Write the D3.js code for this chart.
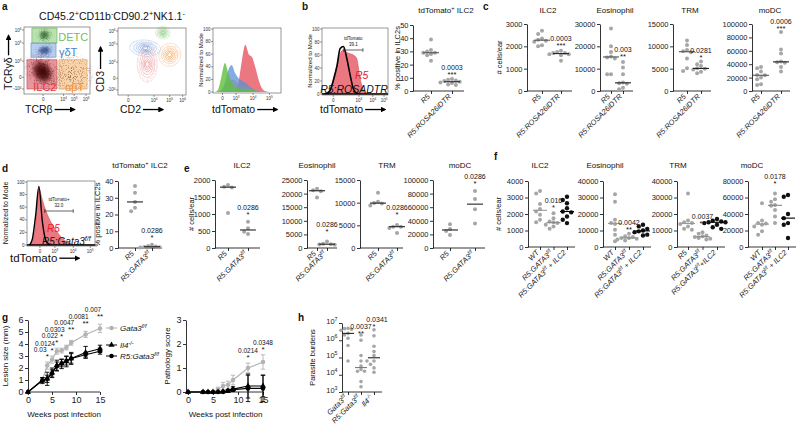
<!DOCTYPE html>
<html>
<head>
<meta charset="utf-8">
<script src="https://cdn.jsdelivr.net/npm/d3@7"></script>
<style>
  body { margin: 0; background: #fff; }
  svg { display: block; }
  text { font-family: "Liberation Sans", Arial, sans-serif; }
</style>
</head>
<body>
<script>
// ---------------- data ----------------
// a: flow gates (normalised channel units: u = x, v = y)
const gateNames = ['DETC', 'γδT', 'ILC2', 'αβT'];
const gateBoxes = [[0.12, 0.76, 0.5, 0.985], [0.106, 0.55, 0.485, 0.76], [0.045, 0.075, 0.5, 0.51], [0.53, 0.075, 0.955, 0.51]];
const gateLabelAt = [[0.52, 0.79], [0.53, 0.57], [0.14, 0.045], [0.62, 0.045]];
// population clouds: [u, v, rx, ry, rotation]
const popsTCR = [[0.28, 0.33, 0.16, 0.2, -35], [0.72, 0.3, 0.22, 0.2, 0], [0.31, 0.65, 0.11, 0.07, -10], [0.31, 0.88, 0.09, 0.08, 0]];
const popsCD2 = [[0.66, 0.93, 0.08, 0.07, 0], [0.4, 0.7, 0.17, 0.09, 5], [0.76, 0.6, 0.12, 0.13, 20], [0.43, 0.46, 0.11, 0.2, 0]];

// tdTomato histograms, 20 bins each (% of mode)
const histA_ILC2 = [0, 0, 0, 0, 0, 0, 2, 15, 50, 75, 60, 55, 38, 18, 5, 1, 0, 0, 0, 0];
const histA_abT = [0, 0, 2, 8, 15, 20, 18, 12, 10, 9, 8, 6, 4, 2, 1, 0, 0, 0, 0, 0];
const histA_gdT = [0, 0, 3, 15, 35, 43, 30, 22, 18, 15, 10, 6, 3, 1, 0, 0, 0, 0, 0, 0];
const histA_DETC = [0, 4, 25, 46, 30, 15, 8, 6, 5, 5, 4, 3, 2, 1, 0, 0, 0, 0, 0, 0];
const histB_R5 = [0, 2, 8, 25, 45, 62, 68, 64, 62, 60, 55, 25, 6, 1, 0, 0, 0, 0, 0, 0];
const histB_DTR = [0, 1, 6, 22, 42, 70, 73, 55, 30, 8, 1, 0, 0, 0, 0, 0, 0, 0, 0, 0];
const histD_R5 = [0, 4, 30, 90, 72, 55, 42, 32, 24, 16, 10, 6, 3, 1, 0, 0, 0, 0, 0, 0];
const histD_Gata = [0, 8, 45, 93, 38, 8, 1, 0, 0, 0, 0, 0, 0, 0, 0, 0, 0, 0, 0, 0];

// b / d: % tdTomato+ in ILC2s
const bGroups = ['R5', 'R5:ROSA26iDTR'];
const bPct = [[39, 31, 30, 29, 29, 28, 27, 23], [9, 8.5, 8, 7.5, 7, 6.5, 6, 5, 4.5]];
const dGroups = ['R5', 'R5:GATA3^{f/f}'];
const dPct = [[37, 33, 27.5, 24, 22], [2, 1.2, 0.9, 0.6, 0.4, 0.3]];

// c: cells/ear, R5 vs R5:ROSA26iDTR
const cILC2 = [[2700, 2550, 2350, 2300, 2250, 2200, 2050, 2000], [1800, 1750, 1700, 1700, 1650, 1650, 1600, 1350]];
const cEos = [[28000, 20000, 17500, 15500, 15000, 14500, 7500, 7500], [13000, 10500, 7500, 3800, 3500, 3200, 1500, 800]];
const cTRM = [[11300, 10300, 9200, 8900, 8700, 7300, 5100, 4500], [6600, 6000, 5600, 5100, 5000, 4800, 4300, 4000]];
const cMoDC = [[36000, 34000, 29000, 24000, 23500, 20000, 17500, 10000, 9000], [88000, 62000, 56000, 44000, 43000, 42000, 36000, 29000]];

// e: cells/ear, R5 vs R5:GATA3f/f
const eGroups = ['R5', 'R5:GATA3^{f/f}'];
const eILC2 = [[1850, 1800, 1780, 1030], [770, 580, 480, 410]];
const eEos = [[21800, 21200, 20900, 18600], [2400, 1600, 1400, 1300, 1200]];
const eTRM = [[12200, 10200, 9900, 9800, 9400], [5100, 4700, 4700, 4400, 3300]];
const eMoDC = [[35000, 28000, 25000, 19000], [84000, 72000, 57000, 36000]];

// f: cells/ear with ILC2 transfer
const fGroups = ['WT', 'R5:GATA3^{f/f}', 'R5:GATA3^{f/f} + ILC2'];
const fGroupsTRM = ['R5', 'R5:GATA3^{f/f}', 'R5:GATA3^{f/f}+ILC2'];
const fILC2 = [[3400, 3250, 2600, 2300, 2150, 1950, 1650, 1500], [2050, 1750, 1550, 1500, 1450, 1350, 1250, 1100], [3050, 2850, 2650, 2350, 2150, 2100, 1850, 1650, 1450]];
const fEos = [[32000, 27500, 16500, 14500, 14000, 10500, 7500, 3500], [8000, 6500, 6000, 5500, 5500, 5000, 4500, 4000], [13500, 12500, 11000, 10000, 9500, 9000, 7500, 7000]];
const fTRM = [[32500, 16000, 15000, 14500, 14000, 12500, 11000, 10500], [9000, 8000, 7000, 6500, 6000, 5500, 5000, 4500], [17000, 16000, 15500, 15000, 15000, 14500, 13500, 12000, 11000]];
const fMoDC = [[53000, 32000, 29000, 28500, 27000, 25000, 19000, 15000], [65000, 58000, 55000, 51000, 50000, 45000, 37000, 29000], [63000, 61000, 40000, 35000, 29000, 27000, 11000]];

// g: time course
const weeks = [0, 3, 4, 5, 6, 7, 8, 9, 12, 15];
const lesionGata = [0, 1.0, 2.2, 2.7, 3.4, 3.45, 3.7, 4.1, 4.8, 5.3];
const lesionGataErr = [0, 0.15, 0.3, 0.3, 0.25, 0.2, 0.2, 0.2, 0.25, 0.35];
const lesionIl4 = [0, 1.0, 1.1, 1.6, 2.2, 2.35, 2.55, 2.8, 3.3, 3.6];
const lesionIl4Err = [0, 0.2, 0.55, 0.4, 0.45, 0.4, 0.45, 0.5, 0.5, 0.3];
const lesionR5 = [0, 0.95, 1.1, 1.55, 2.15, 2.4, 2.6, 2.8, 3.1, 3.4];
const lesionR5Err = [0, 0.25, 0.3, 0.3, 0.35, 0.3, 0.35, 0.4, 0.2, 0.25];
const lesionP = [[4, '0.03', '*'], [5, '0.0124', '*'], [6, '0.022', '*'], [7, '0.0303', '*'], [9, '0.0047', '**'], [12, '0.0081', '**'], [15, '0.007', '**']];
const pathGata = [0, 0, 0, 0, 0.1, 0.25, 0.3, 0.5, 1.0, 1.25];
const pathGataErr = [0, 0, 0, 0, 0.1, 0.15, 0.15, 0.2, 0.2, 0.3];
const pathIl4 = [0, 0, 0, 0, 0, 0.02, 0.05, 0.12, 0.25, 0.25];
const pathIl4Err = [0, 0, 0, 0, 0, 0.02, 0.05, 0.1, 0.5, 0.45];
const pathR5 = [0, 0, 0, 0, 0, 0, 0.05, 0.1, 0.15, 0.15];
const pathR5Err = [0, 0, 0, 0, 0, 0, 0.05, 0.05, 0.55, 0.55];
const pathP = [[12, '0.0214', '*'], [15, '0.0348', '*']];

// h: parasite burdens
const hGroups = ['Gata3^{f/f}', 'R5:Gata3^{f/f}', 'Il4^{-/-}'];
const hBurden = [
  [5.0e6, 4.7e6, 4.3e6, 3.8e6, 2.5e6, 2.0e6, 1.3e6, 5.0e5, 6.3e4],
  [2.0e6, 1.0e6, 1.3e5, 6.3e4, 3.2e4, 2.0e4, 1.6e4, 1.6e4, 4.0e3, 2.0e3],
  [4.0e6, 1.8e6, 4.5e5, 2.2e5, 1.3e5, 6.3e4, 6.3e4, 4.0e4, 2.5e4, 1.4e4]
];

// ---------------- helpers ----------------
const GRAY = '#a6a6a6', BLACK = '#111';
const TICK = 7.5;
const svg = d3.select('body').append('svg').attr('width', 800).attr('height', 433);
const defs = svg.append('defs');

defs.append('marker').attr('id', 'arr').attr('viewBox', '0 0 10 10').attr('refX', 8).attr('refY', 5)
  .attr('markerWidth', 4.5).attr('markerHeight', 4.5).attr('orient', 'auto')
  .append('path').attr('d', 'M0,0L10,5L0,10Z').attr('fill', '#000');

// speckle mask so the flow clouds look like dots
const speck = defs.append('filter').attr('id', 'speck').attr('x', '-20%').attr('y', '-20%').attr('width', '140%').attr('height', '140%');
speck.append('feTurbulence').attr('type', 'fractalNoise').attr('baseFrequency', 1.1).attr('numOctaves', 1).attr('seed', 4).attr('result', 'n');
speck.append('feColorMatrix').attr('in', 'n').attr('type', 'matrix')
  .attr('values', '0 0 0 0 0  0 0 0 0 0  0 0 0 0 0  7 0 0 0 -3.6').attr('result', 'm');
speck.append('feComposite').attr('in', 'SourceGraphic').attr('in2', 'm').attr('operator', 'in');
defs.append('filter').attr('id', 'soft').append('feGaussianBlur').attr('stdDeviation', 1.2);

function rich(t, str, size) {
  t.text(null);
  const sh = size * 0.38;
  let raised = false;
  str.split(/(\^\{[^}]*\})/).filter(s => s).forEach(s => {
    if (s.startsWith('^{')) {
      t.append('tspan').attr('dy', raised ? 0 : -sh).attr('font-size', size * 0.7).text(s.slice(2, -1));
      raised = true;
    } else {
      t.append('tspan').attr('dy', raised ? sh : 0).text(s);
      raised = false;
    }
  });
  return t;
}

function label(g, x, y, str, size, o = {}) {
  const t = g.append('text').attr('x', x).attr('y', y).attr('font-size', size)
    .attr('text-anchor', o.anchor || 'start').attr('fill', o.fill || '#111');
  if (o.weight) t.attr('font-weight', o.weight);
  if (o.style) t.attr('font-style', o.style);
  if (o.rotate) t.attr('transform', `rotate(${o.rotate},${x},${y})`);
  return rich(t, str, size);
}

function styleAxis(a, fs) {
  a.attr('font-family', null);
  a.select('.domain').attr('stroke', '#000').attr('stroke-width', 0.8);
  a.selectAll('.tick line').attr('stroke', '#000').attr('stroke-width', 0.8);
  a.selectAll('.tick text').attr('font-size', fs).attr('fill', '#222');
}

function arrowLabel(x, y, str, size, len, rot) {
  const g = svg.append('g').attr('transform', `translate(${x},${y})` + (rot ? ` rotate(${rot})` : ''));
  const t = label(g, 0, 0, str, size);
  const w = t.node().getComputedTextLength();
  g.append('line').attr('x1', w + 2).attr('x2', w + 2 + len).attr('y1', -size * 0.33).attr('y2', -size * 0.33)
    .attr('stroke', '#000').attr('stroke-width', 1.3).attr('marker-end', 'url(#arr)');
}

function frame(g, b) {
  g.append('rect').attr('x', b.x0).attr('y', b.y0).attr('width', b.x1 - b.x0).attr('height', b.y1 - b.y0)
    .attr('fill', 'none').attr('stroke', '#555').attr('stroke-width', 0.6);
}

function flowTicks(g, b, xt, yt) {
  const x = d3.scaleLinear([0, 1], [b.x0, b.x1]), y = d3.scaleLinear([0, 1], [b.y1, b.y0]);
  xt.forEach(([u, s]) => {
    g.append('line').attr('x1', x(u)).attr('x2', x(u)).attr('y1', b.y1).attr('y2', b.y1 + 2).attr('stroke', '#333').attr('stroke-width', 0.5);
    label(g, x(u), b.y1 + 6.5, s, 4.5, { anchor: 'middle', fill: '#333' });
  });
  yt.forEach(([v, s]) => {
    g.append('line').attr('x1', b.x0 - 2).attr('x2', b.x0).attr('y1', y(v)).attr('y2', y(v)).attr('stroke', '#333').attr('stroke-width', 0.5);
    label(g, b.x0 - 2.5, y(v) + 1.5, s, 4.5, { anchor: 'end', fill: '#333' });
  });
}

function gradient(id, color, a0) {
  const gr = defs.append('radialGradient').attr('id', id);
  gr.append('stop').attr('offset', '0%').attr('stop-color', color).attr('stop-opacity', a0);
  gr.append('stop').attr('offset', '55%').attr('stop-color', color).attr('stop-opacity', a0 * 0.75);
  gr.append('stop').attr('offset', '100%').attr('stop-color', color).attr('stop-opacity', 0);
}

function histPlot(b, series, xt, gate) {
  const g = svg.append('g');
  const x = d3.scaleLinear([0, 1], [b.x0, b.x1]);
  const y = d3.scaleLinear([0, 100], [b.y1 - 1, b.y0 + 1]);
  series.forEach(s => {
    const n = s.vals.length;
    const pts = [[0, 0], ...s.vals.map((v, i) => [(i + 0.5) / n, v]), [1, 0]];
    g.append('path').datum(pts)
      .attr('d', d3.area().x(d => x(d[0])).y0(y(0)).y1(d => y(d[1])).curve(d3.curveMonotoneX))
      .attr('fill', s.fill).attr('fill-opacity', s.op)
      .attr('stroke', s.stroke).attr('stroke-width', s.sw);
  });
  frame(g, b);
  [0, 20, 40, 60, 80, 100].forEach(v => {
    g.append('line').attr('x1', b.x0 - 2).attr('x2', b.x0).attr('y1', y(v)).attr('y2', y(v)).attr('stroke', '#333').attr('stroke-width', 0.5);
    label(g, b.x0 - 2.5, y(v) + 1.5, String(v), 4.5, { anchor: 'end', fill: '#333' });
  });
  flowTicks(g, b, xt, []);
  if (gate) {
    const gy = gate.y;
    g.append('line').attr('x1', x(gate.u0)).attr('x2', x(gate.u1)).attr('y1', gy).attr('y2', gy).attr('stroke', '#222').attr('stroke-width', 0.7);
    [gate.u0, gate.u1].forEach(u => g.append('line').attr('x1', x(u)).attr('x2', x(u)).attr('y1', gy - 1.8).attr('y2', gy + 1.8).attr('stroke', '#222').attr('stroke-width', 0.7));
    label(g, x((gate.u0 + gate.u1) / 2), gy - 10, gate.name, 4.5, { anchor: 'middle' });
    label(g, x((gate.u0 + gate.u1) / 2), gy - 4.5, gate.pct, 4.5, { anchor: 'middle' });
  }
  return g;
}

function swarm(vals, cx, y, r) {
  const d = 2 * r + 0.3, placed = [];
  [...vals].sort((a, b) => b - a).forEach(v => {
    const py = y(v);
    let px = cx;
    for (const k of [0, -1, 1, -2, 2, -3, 3]) {
      const tx = cx + k * d * 0.9;
      if (placed.every(p => Math.hypot(p[0] - tx, p[1] - py) >= d * 0.9)) { px = tx; break; }
    }
    placed.push([px, py]);
  });
  return placed;
}

function dotPlot(c) {
  const g = svg.append('g');
  const n = c.groups.length;
  const first = c.x0 + c.off, last = first + c.step * (n - 1), xEnd = last + c.offR;
  const x = d3.scalePoint().domain(d3.range(n)).range([first, last]);
  const y = c.y;
  const yBot = y.range()[0];
  const ya = g.append('g').attr('transform', `translate(${c.x0},0)`)
    .call(d3.axisLeft(y).tickValues(c.ticks).tickSize(3).tickSizeOuter(0).tickPadding(1.5).tickFormat(d3.format('d')));
  styleAxis(ya, TICK);
  if (c.tickText) ya.selectAll('.tick text').each(function (d) { rich(d3.select(this), c.tickText(d), TICK); });
  const xa = g.append('g').attr('transform', `translate(0,${yBot})`)
    .call(d3.axisBottom(x).tickSize(3).tickSizeOuter(0));
  styleAxis(xa, TICK);
  xa.select('.domain').attr('d', `M${c.x0},0H${xEnd}`);
  xa.selectAll('.tick text').each(function (d) {
    const t = d3.select(this).attr('x', 0).attr('y', 0).attr('dy', '0.35em')
      .attr('transform', 'translate(-1,6) rotate(-45)').attr('text-anchor', 'end').attr('font-style', 'italic');
    rich(t, c.groups[d], TICK);
  });
  c.vals.forEach((vals, i) => {
    const r = (c.r && c.r[i]) || 2;
    g.append('g').selectAll('circle').data(swarm(vals, x(i), y, r)).join('circle')
      .attr('cx', d => d[0]).attr('cy', d => d[1]).attr('r', r).attr('fill', c.colors[i]);
    const m = y(d3.median(vals)), hw = c.mw || 8;
    g.append('line').attr('x1', x(i) - hw).attr('x2', x(i) + hw).attr('y1', m).attr('y2', m)
      .attr('stroke', c.medColors[i]).attr('stroke-width', 1.1);
  });
  (c.ann || []).forEach(a => {
    const top = y(d3.max(c.vals[a.g])) - (a.lift || 0);
    label(g, x(a.g), top - 2, a.s, 7.5, { anchor: 'middle' });
    label(g, x(a.g) + (a.dx || 0), top - 9, a.p, 7, { anchor: 'middle' });
  });
  if (c.title) label(g, c.tx, c.ty, c.title, 8, { anchor: 'middle' });
  if (c.ylab) {
    const mid = (y.range()[0] + y.range()[1]) / 2;
    label(g, c.ylx, mid, c.ylab, 7.5, { anchor: 'middle', rotate: -90 });
  }
}

function linePlot(c) {
  const g = svg.append('g');
  const x = d3.scaleLinear([0, 15], [c.x0, c.x1]);
  const y = d3.scaleLinear([0, c.max], [392, 320]);
  const ya = g.append('g').attr('transform', `translate(${c.ax},0)`)
    .call(d3.axisLeft(y).ticks(c.max).tickSize(3).tickSizeOuter(0).tickPadding(1.5));
  styleAxis(ya, 9);
  const xa = g.append('g').attr('transform', 'translate(0,392)')
    .call(d3.axisBottom(x).tickValues([0, 5, 10, 15]).tickSize(3).tickSizeOuter(0).tickPadding(1.5));
  styleAxis(xa, 9);
  xa.select('.domain').attr('d', `M${c.ax},0H${c.x1}`);
  c.series.forEach(s => {
    const pts = weeks.map((w, i) => ({ w, v: s.v[i], e: s.e[i] }));
    g.append('path').datum(pts).attr('d', d3.line().x(d => x(d.w)).y(d => y(d.v)))
      .attr('fill', 'none').attr('stroke', s.color).attr('stroke-width', 1.1);
    pts.filter(d => d.e > 0).forEach(d => {
      g.append('line').attr('x1', x(d.w)).attr('x2', x(d.w)).attr('y1', y(d.v - d.e)).attr('y2', y(d.v + d.e)).attr('stroke', s.color).attr('stroke-width', 0.9);
      [d.v - d.e, d.v + d.e].forEach(v => g.append('line').attr('x1', x(d.w) - 2.2).attr('x2', x(d.w) + 2.2).attr('y1', y(v)).attr('y2', y(v)).attr('stroke', s.color).attr('stroke-width', 0.9));
    });
    g.append('g').selectAll('path').data(pts).join('path')
      .attr('transform', d => `translate(${x(d.w)},${y(d.v)})`)
      .attr('d', d3.symbol(s.sym, 16)).attr('fill', s.color);
  });
  // p-values stacked as a staircase above the reference series
  const ref = c.series[0];
  let prev = Infinity;
  c.ann.forEach(([w, p, s]) => {
    const i = weeks.indexOf(w);
    const top = y(ref.v[i] + ref.e[i]);
    const py = Math.min(top - 10, prev - 6.5);
    prev = py;
    label(g, x(w), Math.min(top - 2.5, py + 7), s, 8, { anchor: 'middle' });
    label(g, x(w) + c.pdx, py, p, 6.5, { anchor: 'middle' });
  });
  label(g, (c.x0 + c.x1) / 2, 417, 'Weeks post infection', 8, { anchor: 'middle' });
  label(g, c.ylx, 356, c.ylab, 8, { anchor: 'middle', rotate: -90 });
  return g;
}

// ---------------- panel letters ----------------
[['a', 2, 10], ['b', 302, 10], ['c', 483, 10], ['d', 2, 172], ['e', 184, 172], ['f', 494, 160], ['g', 2, 321], ['h', 298, 321]]
  .forEach(([s, x, y]) => label(svg, x, y, s, 10, { weight: 'bold' }));

// ---------------- panel a ----------------
label(svg, 112, 20, 'CD45.2^{+}CD11b^{-}CD90.2^{+}NK1.1^{-}', 10.5, { anchor: 'middle' });

const gateFill = ['#a3d795', '#a2bfea', '#e27680', '#f7c590'];
const gateStroke = ['#6aaa5a', '#5a86c8', '#c44450', '#e49a55'];
const gateText = ['#72c060', '#4a7fd0', '#e8323e', '#f0923a'];
const popCore = ['#3a0407', '#6b4424', '#1f3a74', '#2c5a26'];
const popHalo = ['#9c2a34', '#c09060', '#5f86c8', '#6fae62'];
const boxTCR = { x0: 24, x1: 90, y0: 27, y1: 94 };
{
  const g = svg.append('g');
  const x = d3.scaleLinear([0, 1], [boxTCR.x0, boxTCR.x1]), y = d3.scaleLinear([0, 1], [boxTCR.y1, boxTCR.y0]);
  gateBoxes.forEach((b, i) => {
    g.append('rect').attr('x', x(b[0])).attr('y', y(b[3])).attr('width', x(b[2]) - x(b[0])).attr('height', y(b[1]) - y(b[3]))
      .attr('fill', gateFill[i]).attr('fill-opacity', 0.75).attr('stroke', gateStroke[i]).attr('stroke-width', 0.6);
  });
  // population order: ILC2, abT, gdT, DETC
  popsTCR.forEach((p, i) => {
    gradient('halo' + i, popHalo[i], 1);
    gradient('core' + i, popCore[i], i === 0 ? 1 : 0.85);
    const t = `translate(${x(p[0])},${y(p[1])}) rotate(${p[4]})`;
    g.append('ellipse').attr('transform', t).attr('rx', (x(p[2]) - x(0)) * 1.7).attr('ry', (y(0) - y(p[3])) * 1.7)
      .attr('fill', `url(#halo${i})`).attr('filter', 'url(#speck)');
    g.append('ellipse').attr('transform', t).attr('rx', (x(p[2]) - x(0)) * (i === 1 ? 0.6 : 1)).attr('ry', (y(0) - y(p[3])) * (i === 1 ? 0.6 : 1))
      .attr('fill', `url(#core${i})`).attr('opacity', i === 1 ? 0.5 : 1).attr('filter', i === 1 ? 'url(#speck)' : 'url(#soft)');
  });
  frame(g, boxTCR);
  gateNames.forEach((s, i) => label(g, x(gateLabelAt[i][0]), y(gateLabelAt[i][1]), s, 11, { fill: gateText[i] }));
  flowTicks(g, boxTCR, [[0.29, '0'], [0.6, '10^{4}'], [0.76, '10^{5}'], [0.94, '10^{6}']],
    [[0.955, '10^{6}'], [0.76, '10^{5}'], [0.49, '10^{4}'], [0.25, '0'], [0.075, '-10^{4}']]);
}
arrowLabel(25, 113, 'TCRβ', 10.5, 20);
arrowLabel(12, 90, 'TCRγδ', 10.5, 20, -90);

const boxCD2 = { x0: 118, x1: 186, y0: 28, y1: 95 };
const contourColor = ['#7cc46a', '#6f9be0', '#f2a45c', '#e98a8a'];
{
  const g = svg.append('g');
  const x = d3.scaleLinear([0, 1], [boxCD2.x0, boxCD2.x1]), y = d3.scaleLinear([0, 1], [boxCD2.y1, boxCD2.y0]);
  const rings = [1.35, 1, 0.78, 0.58, 0.4, 0.24];
  popsCD2.forEach((p, i) => {
    const t = `translate(${x(p[0])},${y(p[1])}) rotate(${p[4]})`;
    const rx = x(p[2]) - x(0), ry = y(0) - y(p[3]);
    g.append('ellipse').attr('transform', t).attr('rx', rx * 1.35).attr('ry', ry * 1.35)
      .attr('fill', contourColor[i]).attr('fill-opacity', 0.25).attr('filter', 'url(#speck)');
    rings.forEach((k, j) => g.append('ellipse').attr('transform', t).attr('rx', rx * k).attr('ry', ry * k)
      .attr('fill', 'none').attr('stroke', contourColor[i]).attr('stroke-width', 0.7).attr('stroke-opacity', 0.35 + j * 0.12));
  });
  frame(g, boxCD2);
  flowTicks(g, boxCD2, [[0.15, '0'], [0.53, '10^{4}'], [0.76, '10^{5}'], [0.95, '10^{6}']],
    [[0.955, '10^{6}'], [0.76, '10^{5}'], [0.49, '10^{4}'], [0.25, '0'], [0.075, '-10^{4}']]);
}
arrowLabel(120, 113, 'CD2', 10.5, 20);
arrowLabel(104, 92, 'CD3', 10.5, 22, -90);

histPlot({ x0: 213, x1: 281, y0: 28, y1: 93 }, [
  { vals: histA_ILC2, fill: '#e8606a', op: 0.85, stroke: 'none', sw: 0 },
  { vals: histA_abT, fill: '#e6a050', op: 0.7, stroke: 'none', sw: 0 },
  { vals: histA_gdT, fill: '#5b8fd8', op: 0.75, stroke: 'none', sw: 0 },
  { vals: histA_DETC, fill: '#5fbf3f', op: 0.8, stroke: 'none', sw: 0 }
], [[0.14, '0'], [0.34, '10^{3}'], [0.59, '10^{4}'], [0.83, '10^{5}']]);
label(svg, 203, 60, 'Normalized to Mode', 6, { anchor: 'middle', rotate: -90 });
arrowLabel(212, 113, 'tdTomato', 10.5, 20);

// ---------------- panel b ----------------
histPlot({ x0: 322, x1: 388, y0: 28, y1: 95 }, [
  { vals: histB_R5, fill: '#e8606a', op: 0.85, stroke: '#d04050', sw: 0.5 },
  { vals: histB_DTR, fill: 'none', op: 0, stroke: '#000', sw: 1.6 }
], [[0.17, '0'], [0.56, '10^{3}'], [0.77, '10^{4}'], [0.94, '10^{5}']],
  { u0: 0.33, u1: 0.62, y: 50, name: 'tdTomato', pct: '39.1' });
label(svg, 312, 61, 'Normalized to Mode', 6, { anchor: 'middle', rotate: -90 });
label(svg, 355, 79, 'R5', 10.5, { style: 'italic', fill: '#e8202a' });
label(svg, 354, 93, 'R5:ROSADTR', 10.5, { style: 'italic', anchor: 'middle' });
arrowLabel(320, 113, 'tdTomato', 10.5, 20);

dotPlot({ x0: 413, off: 18, step: 21, offR: 12, y: d3.scaleLinear([0, 50], [91, 25]), ticks: [0, 10, 20, 30, 40, 50],
  groups: bGroups, vals: bPct, colors: [GRAY, GRAY], medColors: ['#555', '#222'],
  title: 'tdTomato^{+} ILC2', tx: 446, ty: 13, ylab: '% positive in ILC2s', ylx: 400,
  ann: [{ g: 1, p: '0.0003', s: '***' }] });

// ---------------- panel c ----------------
const cy = max => d3.scaleLinear([0, max], [91, 24]);
const cMed = ['#555', '#222'];
dotPlot({ x0: 527, off: 15, step: 19, offR: 11, y: cy(3000), ticks: [0, 1000, 2000, 3000], groups: bGroups, vals: cILC2,
  colors: [GRAY, GRAY], medColors: cMed, title: 'ILC2', tx: 548, ty: 13, ylab: '# cells/ear', ylx: 502,
  ann: [{ g: 1, p: '0.0003', s: '***', lift: 1 }] });
dotPlot({ x0: 600, off: 11, step: 12, offR: 10, y: cy(30000), ticks: [0, 10000, 20000, 30000], groups: bGroups, vals: cEos,
  colors: [GRAY, GRAY], medColors: cMed, title: 'Eosinophil', tx: 615, ty: 13,
  ann: [{ g: 1, p: '0.003', s: '**', lift: 1 }] });
dotPlot({ x0: 673, off: 14, step: 14, offR: 10, y: cy(15000), ticks: [0, 5000, 10000, 15000], groups: bGroups, vals: cTRM,
  colors: [GRAY, GRAY], medColors: cMed, title: 'TRM', tx: 690, ty: 13,
  ann: [{ g: 1, p: '0.0281', s: '*' }] });
dotPlot({ x0: 752, off: 9, step: 20, offR: 9, y: cy(100000), ticks: [0, 20000, 40000, 60000, 80000, 100000], groups: bGroups, vals: cMoDC,
  colors: [GRAY, GRAY], medColors: cMed, title: 'moDC', tx: 770, ty: 13,
  ann: [{ g: 1, p: '0.0006', s: '***', lift: -1 }] });

// ---------------- panel d ----------------
histPlot({ x0: 27, x1: 95, y0: 181, y1: 246 }, [
  { vals: histD_R5, fill: '#e8606a', op: 0.85, stroke: '#d04050', sw: 0.5 },
  { vals: histD_Gata, fill: 'none', op: 0, stroke: '#000', sw: 1.4 }
], [[0.19, '0'], [0.41, '10^{3}'], [0.68, '10^{4}'], [0.93, '10^{5}']],
  { u0: 0.26, u1: 0.68, y: 211, name: 'tdTomato+', pct: '32.0' });
label(svg, 8, 213, 'Normalized to Mode', 7, { anchor: 'middle', rotate: -90 });
label(svg, 47, 232, 'R5', 10, { style: 'italic', fill: '#e8202a' });
label(svg, 42, 245, 'R5:Gata3^{f/f}', 10, { style: 'italic' });
arrowLabel(10, 262, 'tdTomato', 11.5, 20);

dotPlot({ x0: 118, off: 17, step: 17, offR: 10, y: d3.scaleLinear([0, 40], [248, 181]), ticks: [0, 10, 20, 30, 40],
  groups: dGroups, vals: dPct, colors: [GRAY, GRAY], medColors: ['#222', '#222'],
  title: 'tdTomato^{+} ILC2', tx: 140, ty: 168, ylab: '% positive in ILC2s', ylx: 100,
  ann: [{ g: 1, p: '0.0286', s: '*', lift: 3 }] });

// ---------------- panel e ----------------
const ey = max => d3.scaleLinear([0, max], [248, 180]);
const eMed = ['#222', '#222'];
dotPlot({ x0: 215, off: 13, step: 20, offR: 12, y: ey(2000), ticks: [0, 500, 1000, 1500, 2000], groups: eGroups, vals: eILC2,
  colors: [GRAY, GRAY], medColors: eMed, title: 'ILC2', tx: 242, ty: 168, ylab: '# cells/ear', ylx: 194,
  ann: [{ g: 1, p: '0.0286', s: '*', lift: 3 }] });
dotPlot({ x0: 307, off: 10, step: 10, offR: 10, y: ey(25000), ticks: [0, 5000, 10000, 15000, 20000, 25000], groups: eGroups, vals: eEos,
  colors: [GRAY, GRAY], medColors: eMed, title: 'Eosinophil', tx: 317, ty: 168,
  ann: [{ g: 1, p: '0.0286', s: '*', lift: 5 }] });
dotPlot({ x0: 360, off: 18, step: 19, offR: 6, y: ey(15000), ticks: [0, 5000, 10000, 15000], groups: eGroups, vals: eTRM,
  colors: [GRAY, GRAY], medColors: eMed, title: 'TRM', tx: 387, ty: 168,
  ann: [{ g: 1, p: '0.0286', s: '*', lift: 6 }] });
dotPlot({ x0: 433, off: 17, step: 25, offR: 10, y: ey(100000), ticks: [0, 20000, 40000, 60000, 80000, 100000], groups: eGroups, vals: eMoDC,
  colors: [GRAY, GRAY], medColors: eMed, title: 'moDC', tx: 460, ty: 168,
  ann: [{ g: 1, p: '0.0286', s: '*', lift: 3 }] });

// ---------------- panel f ----------------
const fy = max => d3.scaleLinear([0, max], [247, 181]);
const fCol = [GRAY, GRAY, BLACK], fMed = ['#999', '#888', '#000'], fR = [2, 2, 2.2];
dotPlot({ x0: 528, off: 12, step: 13.5, offR: 8, y: fy(4000), ticks: [0, 1000, 2000, 3000, 4000], groups: fGroups, vals: fILC2,
  colors: fCol, medColors: fMed, r: fR, mw: 7, title: 'ILC2', tx: 540, ty: 168, ylab: '# cells/ear', ylx: 501,
  ann: [{ g: 1, p: '0.016', s: '*', lift: 1 }] });
dotPlot({ x0: 603, off: 12, step: 14, offR: 8, y: fy(40000), ticks: [0, 10000, 20000, 30000, 40000], groups: fGroups, vals: fEos,
  colors: fCol, medColors: fMed, r: fR, mw: 7, title: 'Eosinophil', tx: 605, ty: 168,
  ann: [{ g: 1, p: '0.0042', s: '**', lift: 0 }] });
dotPlot({ x0: 677, off: 11, step: 14.5, offR: 8, y: fy(40000), ticks: [0, 10000, 20000, 30000, 40000], groups: fGroupsTRM, vals: fTRM,
  colors: fCol, medColors: fMed, r: fR, mw: 7, title: 'TRM', tx: 678, ty: 168,
  ann: [{ g: 1, p: '0.0037', s: '**', lift: 4 }] });
dotPlot({ x0: 748, off: 14, step: 13, offR: 8, y: fy(80000), ticks: [0, 20000, 40000, 60000, 80000], groups: fGroups, vals: fMoDC,
  colors: fCol, medColors: fMed, r: fR, mw: 7, title: 'moDC', tx: 752, ty: 168,
  ann: [{ g: 1, p: '0.0178', s: '*', lift: 5 }] });

// ---------------- panel g ----------------
const lesion = linePlot({ x0: 28, x1: 100, ax: 28, max: 6, ylab: 'Lesion size (mm)', ylx: 8, pdx: -7, ann: lesionP,
  series: [
    { v: lesionGata, e: lesionGataErr, color: '#b3b3b3', sym: d3.symbolCircle },
    { v: lesionIl4, e: lesionIl4Err, color: '#000', sym: d3.symbolTriangle },
    { v: lesionR5, e: lesionR5Err, color: '#000', sym: d3.symbolCircle }
  ] });
[['Gata3^{f/f}', '#b3b3b3', d3.symbolCircle, 328], ['Il4^{-/-}', '#000', d3.symbolTriangle, 345], ['R5:Gata3^{f/f}', '#000', d3.symbolCircle, 356]]
  .forEach(([s, col, sym, yy]) => {
    lesion.append('line').attr('x1', 106).attr('x2', 117).attr('y1', yy).attr('y2', yy).attr('stroke', col).attr('stroke-width', 1);
    lesion.append('path').attr('transform', `translate(111.5,${yy})`).attr('d', d3.symbol(sym, 16)).attr('fill', col);
    label(lesion, 120, yy + 3, s, 8, { style: 'italic' });
  });

linePlot({ x0: 188, x1: 263, ax: 186, max: 3, ylab: 'Pathology score', ylx: 170, pdx: 0, ann: pathP,
  series: [
    { v: pathGata, e: pathGataErr, color: '#b3b3b3', sym: d3.symbolCircle },
    { v: pathIl4, e: pathIl4Err, color: '#000', sym: d3.symbolTriangle },
    { v: pathR5, e: pathR5Err, color: '#000', sym: d3.symbolCircle }
  ] });

// ---------------- panel h ----------------
dotPlot({ x0: 342, off: 6, step: 13, offR: 8, y: d3.scaleLog([1e3, 1e7], [392, 323]), ticks: [1e3, 1e4, 1e5, 1e6, 1e7],
  tickText: d => '10^{' + Math.round(Math.log10(d)) + '}',
  groups: hGroups, vals: hBurden, colors: [GRAY, GRAY, GRAY], medColors: ['#222', '#777', '#222'], mw: 6, r: [1.8, 1.8, 1.8],
  ylab: 'Parasite burdens', ylx: 315,
  ann: [{ g: 1, p: '0.0037', s: '**', lift: -3 }, { g: 2, p: '0.0341', s: '*', lift: -1, dx: 3 }] });
</script>
</body>
</html>
